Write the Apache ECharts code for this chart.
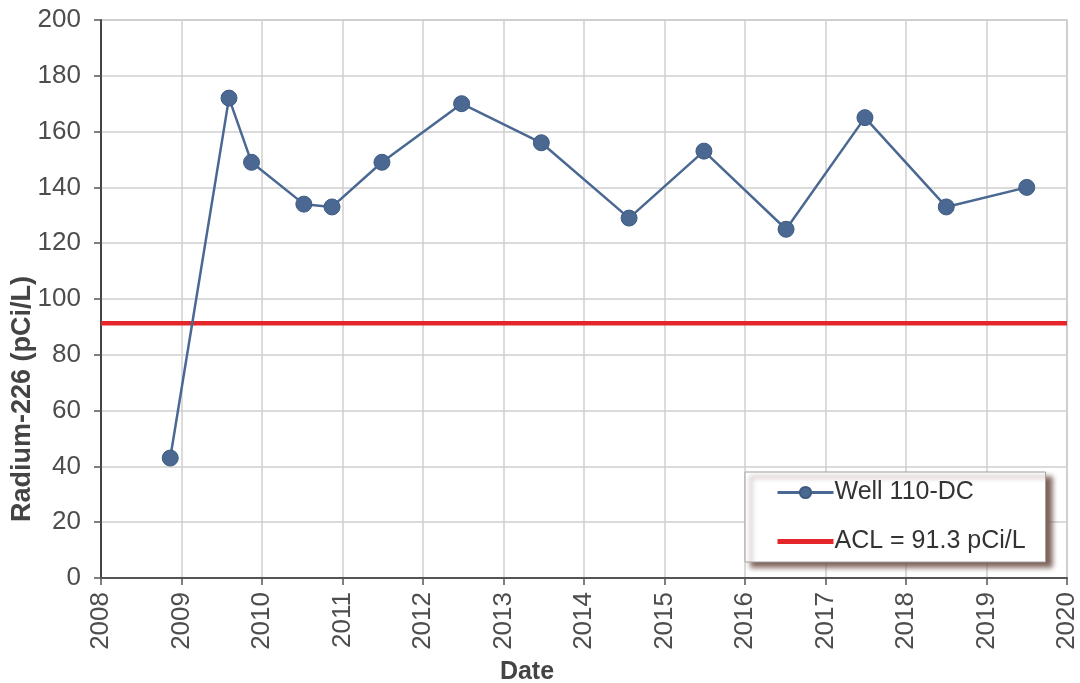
<!DOCTYPE html>
<html><head><meta charset="utf-8">
<script src="https://cdn.jsdelivr.net/npm/echarts@6/dist/echarts.min.js"></script>
<style>html,body{margin:0;padding:0;background:#fff}#c{width:1080px;height:683px}</style>
</head><body><div id="c"></div>
<script>
const years = [2008.86, 2009.59, 2009.87, 2010.52, 2010.87, 2011.49, 2012.48, 2013.47, 2014.56, 2015.49, 2016.51, 2017.49, 2018.50, 2019.50];
const radium = [43, 172, 149, 134, 133, 149, 170, 156, 129, 153, 125, 165, 133, 140];
const aclValue = 91.3;
const xRange = [2008, 2020];
const seriesNames = ['Well 110-DC', 'ACL = 91.3 pCi/L'];
const yTitle = 'Radium-226 (pCi/L)';
const xTitle = 'Date';

const chart = echarts.init(document.getElementById('c'));
const font = 'Liberation Sans, Arial, sans-serif';
chart.setOption({
  animation: false,
  grid: {left: 101, right: 12, top: 20, bottom: 105, show: true, borderColor: '#bdbdbd', borderWidth: 1.5},
  xAxis: {
    type: 'value', min: xRange[0], max: xRange[1], interval: 1,
    axisLine: {lineStyle: {color: '#555', width: 2}},
    axisTick: {show: true, length: 7, lineStyle: {color: '#555', width: 1.5}},
    axisLabel: {rotate: 90, fontFamily: font, fontSize: 26, color: '#4d4d4d', margin: 14, formatter: v => String(v)},
    splitLine: {show: true, lineStyle: {color: '#cfcfcf', width: 1.5}}
  },
  yAxis: {
    type: 'value', min: 0, max: 200, interval: 20,
    axisLine: {show: true, lineStyle: {color: '#444', width: 2}},
    axisTick: {show: true, length: 7, lineStyle: {color: '#555', width: 1.5}},
    axisLabel: {fontFamily: font, fontSize: 26, color: '#4d4d4d', margin: 20},
    splitLine: {show: true, lineStyle: {color: '#cfcfcf', width: 1.5}}
  },
  graphic: [
    {type: 'text', id: 'ytitle', x: 9, y: 399, rotation: Math.PI / 2, silent: true,
     style: {text: yTitle, fontFamily: font, fontSize: 27, fontWeight: 'bold', fill: '#444', align: 'center', verticalAlign: 'top'}},
    {type: 'text', id: 'xtitle', x: 527, y: 660, silent: true,
     style: {text: xTitle, fontFamily: font, fontSize: 25, fontWeight: 'bold', fill: '#444', align: 'center', verticalAlign: 'top'}}
  ],
  legend: {
    orient: 'vertical', left: 745, top: 472, width: 302, height: 91,
    padding: [8, 20, 8, 30], itemGap: 24, itemWidth: 56, itemHeight: 14,
    backgroundColor: '#fff', borderColor: '#a0a0a0', borderWidth: 1,
    shadowColor: 'rgba(110,80,70,0.9)', shadowBlur: 5, shadowOffsetX: 6, shadowOffsetY: 5,
    textStyle: {fontFamily: font, fontSize: 25, color: '#333', padding: [0, 0, 0, -4]},
    data: [
      {name: seriesNames[0], lineStyle: {width: 3, color: '#4a6891'}},
      {name: seriesNames[1], lineStyle: {width: 5, color: '#e4262a'}}
    ]
  },
  series: [
    {
      name: seriesNames[0], type: 'line',
      data: years.map((y, i) => [y, radium[i]]),
      symbol: 'circle', symbolSize: 16,
      lineStyle: {color: '#4a6891', width: 2.5},
      itemStyle: {color: '#4a6891', borderColor: '#3e5a80', borderWidth: 1},
      z: 3
    },
    {
      name: seriesNames[1], type: 'line',
      data: [[xRange[0], aclValue], [xRange[1], aclValue]],
      showSymbol: false, symbol: 'circle', symbolSize: 0,
      lineStyle: {color: '#e4262a', width: 4.5},
      itemStyle: {color: 'rgba(0,0,0,0)'},
      z: 2
    }
  ]
});
</script></body></html>
